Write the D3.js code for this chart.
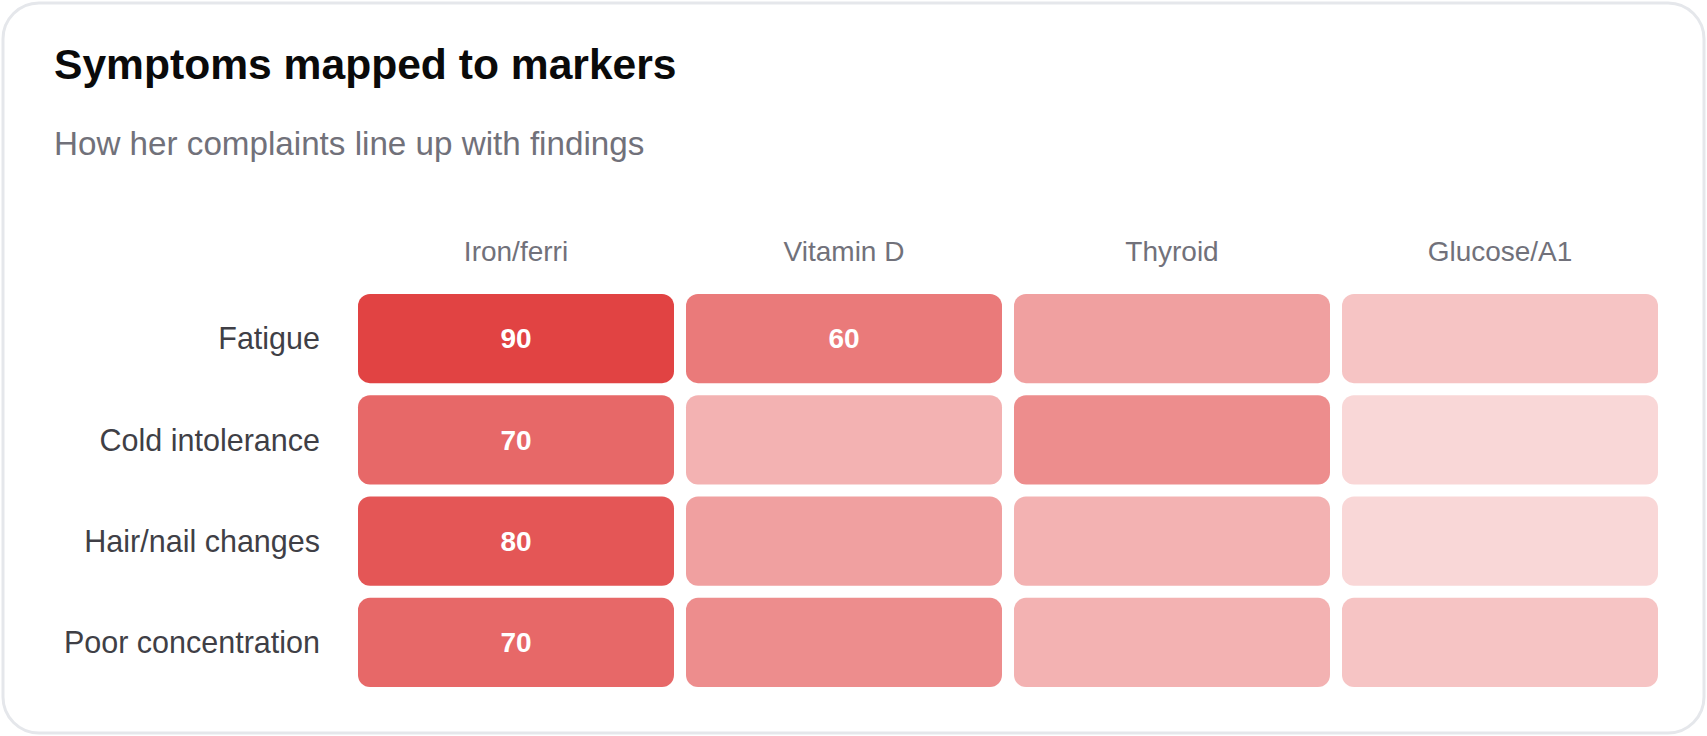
<!DOCTYPE html>
<html>
<head>
<meta charset="utf-8">
<script src="https://cdn.jsdelivr.net/npm/d3@7"></script>
<style>
  body { margin: 0; background: #fff; font-family: "Liberation Sans", Arial, Helvetica, sans-serif; }
</style>
</head>
<body>
<script>
// data
const symptoms = ["Fatigue", "Cold intolerance", "Hair/nail changes", "Poor concentration"];
const markers = ["Iron/ferri", "Vitamin D", "Thyroid", "Glucose/A1"];
const fatigueVals = [90, 60, 40, 20];
const coldVals = [70, 30, 50, 10];
const hairVals = [80, 40, 30, 10];
const concentrationVals = [70, 50, 30, 20];
const rowValues = [fatigueVals, coldVals, hairVals, concentrationVals];

const title = "Symptoms mapped to markers";
const subtitle = "How her complaints line up with findings";

// layout
const width = 1707;
const height = 736;

const cells = [];
symptoms.forEach((s, i) => {
  markers.forEach((m, j) => {
    cells.push({ symptom: s, marker: m, value: rowValues[i][j] });
  });
});

const x = d3.scaleBand().domain(markers).range([358, 1658]).paddingInner(0.0366);
const y = d3.scaleBand().domain(symptoms).range([294, 687]).paddingInner(0.12);
const opacity = d3.scaleLinear().domain([0, 100]).range([0.1, 0.95]);

const svg = d3.select("body").append("svg").attr("width", width).attr("height", height);

// card
svg.append("rect")
  .attr("x", 3).attr("y", 3)
  .attr("width", width - 6).attr("height", height - 6)
  .attr("rx", 36)
  .attr("fill", "#fff")
  .attr("stroke", "#e5e7eb")
  .attr("stroke-width", 3);

svg.append("text")
  .attr("x", 54).attr("y", 79)
  .attr("font-size", 42.6).attr("font-weight", 700)
  .attr("fill", "#0a0a0a")
  .text(title);

svg.append("text")
  .attr("x", 54).attr("y", 155)
  .attr("font-size", 33.2)
  .attr("fill", "#71717a")
  .text(subtitle);

// column headers
svg.append("g")
  .selectAll("text")
  .data(markers)
  .join("text")
  .attr("x", (d) => x(d) + x.bandwidth() / 2)
  .attr("y", 261)
  .attr("text-anchor", "middle")
  .attr("font-size", 28)
  .attr("fill", "#71717a")
  .text((d) => d);

// row labels
svg.append("g")
  .selectAll("text")
  .data(symptoms)
  .join("text")
  .attr("x", 320)
  .attr("y", (d) => y(d) + y.bandwidth() / 2)
  .attr("dy", "0.35em")
  .attr("text-anchor", "end")
  .attr("font-size", 30.5)
  .attr("fill", "#3f3f46")
  .text((d) => d);

// cells
const cellG = svg.append("g")
  .selectAll("g")
  .data(cells)
  .join("g");

cellG.append("rect")
  .attr("x", (d) => x(d.marker))
  .attr("y", (d) => y(d.symptom))
  .attr("width", x.bandwidth())
  .attr("height", y.bandwidth())
  .attr("rx", 12)
  .attr("fill", "#dc2626")
  .attr("fill-opacity", (d) => opacity(d.value));

cellG.filter((d) => d.value >= 60)
  .append("text")
  .attr("x", (d) => x(d.marker) + x.bandwidth() / 2)
  .attr("y", (d) => y(d.symptom) + y.bandwidth() / 2)
  .attr("dy", "0.35em")
  .attr("text-anchor", "middle")
  .attr("font-size", 28)
  .attr("font-weight", 700)
  .attr("fill", "#fff")
  .text((d) => d.value);
</script>
</body>
</html>
